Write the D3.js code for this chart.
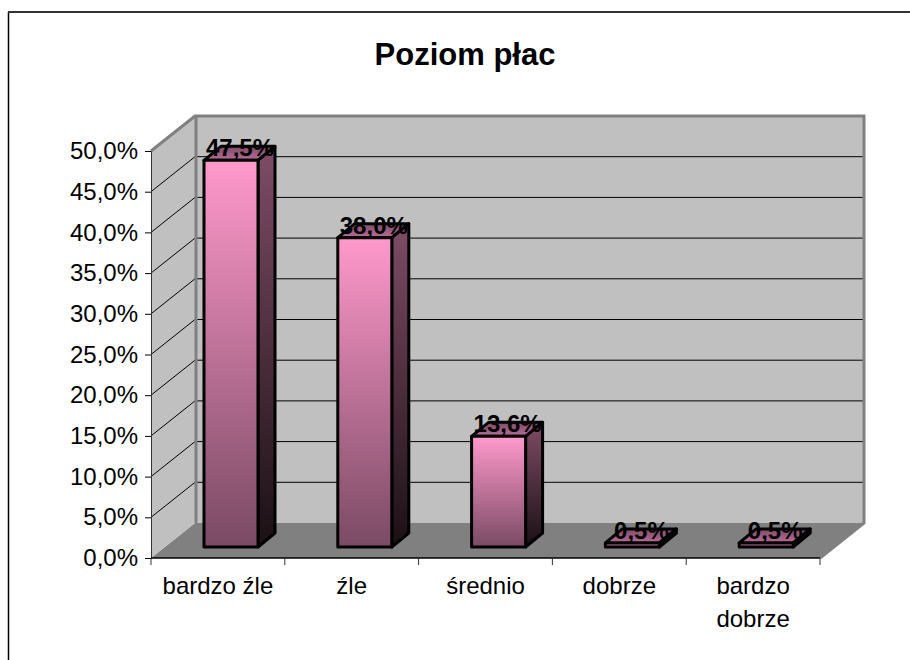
<!DOCTYPE html>
<html>
<head>
<meta charset="utf-8">
<script src="https://cdn.jsdelivr.net/npm/d3@7"></script>
<style>
  html, body { margin: 0; padding: 0; background: #fff; }
  svg { display: block; }
  text { font-family: "Liberation Sans", Arial, sans-serif; fill: #000; }
</style>
</head>
<body>
<svg id="chart" width="910" height="660"></svg>
<script>
var titleText = "Poziom płac";
var categories = ["bardzo źle", "źle", "średnio", "dobrze", "bardzo dobrze"];
var values = [47.5, 38.0, 13.6, 0.5, 0.5];
var valueLabels = ["47,5%", "38,0%", "13,6%", "0,5%", "0,5%"];
var yTicks = [0, 5, 10, 15, 20, 25, 30, 35, 40, 45, 50];

var svg = d3.select("#chart");

// front plane of the 3d box
var x = d3.scaleBand().domain(categories).range([151, 820]);
var y = d3.scaleLinear().domain([0, 50]).range([558, 151]);

// depth of the box, and of the bars inside it
var depth = { x: 44, y: -35 };
var barFront = { y: -11 };
var barDepth = { x: 17, y: -14 };
var barWidth = 54;
var barInset = 53;

function pts(a) {
  return a.map(function(p) { return p[0] + "," + p[1]; }).join(" ");
}

function fmt(v) {
  return v.toFixed(1).replace(".", ",") + "%";
}

var defs = svg.append("defs");
function gradient(id, top, bottom) {
  var g = defs.append("linearGradient").attr("id", id)
    .attr("x1", 0).attr("y1", 0).attr("x2", 0).attr("y2", 1);
  g.append("stop").attr("offset", 0).attr("stop-color", top);
  g.append("stop").attr("offset", 1).attr("stop-color", bottom);
}
gradient("front", "#ff99cc", "#7a4a63");
gradient("side", "#7f4c66", "#1a1014");
gradient("top", "#7f4c66", "#b86c98");

// outer frame, cut off by the right and bottom of the picture
svg.append("line")
  .attr("x1", 8.5).attr("x2", 8.5).attr("y1", 12).attr("y2", 660)
  .attr("stroke", "#000").attr("stroke-width", 1.5);
svg.append("line")
  .attr("x1", 8).attr("x2", 910).attr("y1", 12).attr("y2", 12)
  .attr("stroke", "#333").attr("stroke-width", 2);

svg.append("text")
  .attr("x", 465).attr("y", 65)
  .attr("text-anchor", "middle")
  .attr("font-size", 31).attr("font-weight", "bold")
  .text(titleText);

var x0 = x.range()[0], x1 = x.range()[1];
var y0 = y(0), yTop = y(50);

// floor
svg.append("polygon")
  .attr("points", pts([[x0, y0], [x1, y0], [x1 + depth.x, y0 + depth.y], [x0 + depth.x, y0 + depth.y]]))
  .attr("fill", "#808080");

// left wall
svg.append("polygon")
  .attr("points", pts([[x0, y0], [x0, yTop], [x0 + depth.x, yTop + depth.y], [x0 + depth.x, y0 + depth.y]]))
  .attr("fill", "#c0c0c0");

// back wall
svg.append("rect")
  .attr("x", x0 + depth.x).attr("y", yTop + depth.y)
  .attr("width", x1 - x0).attr("height", y0 - yTop)
  .attr("fill", "#c0c0c0");

// gridlines on both walls
yTicks.slice(1, -1).forEach(function(t) {
  svg.append("path")
    .attr("d", "M" + x0 + "," + y(t) + "L" + (x0 + depth.x) + "," + (y(t) + depth.y) + "H" + (x1 + depth.x))
    .attr("fill", "none").attr("stroke", "#000").attr("stroke-width", 1);
});

// grey edges of the walls
svg.append("path")
  .attr("d", "M" + x0 + "," + yTop + "L" + (x0 + depth.x) + "," + (yTop + depth.y) + "H" + (x1 + depth.x) + "V" + (y0 + depth.y) + "L" + x1 + "," + y0)
  .attr("fill", "none").attr("stroke", "#808080").attr("stroke-width", 3);
svg.append("line")
  .attr("x1", x0 + depth.x + 1).attr("x2", x0 + depth.x + 1)
  .attr("y1", yTop + depth.y).attr("y2", y0 + depth.y)
  .attr("stroke", "#808080").attr("stroke-width", 3);

// bars
var bars = svg.selectAll(".bar").data(categories).enter().append("g").attr("class", "bar");
bars.each(function(c, i) {
  var g = d3.select(this);
  var l = x(c) + barInset, r = l + barWidth;
  var b = y(0) + barFront.y, t = y(values[i]) + barFront.y;
  g.append("polygon")
    .attr("points", pts([[l, t], [r, t], [r + barDepth.x, t + barDepth.y], [l + barDepth.x, t + barDepth.y]]))
    .attr("fill", "url(#top)");
  g.append("polygon")
    .attr("points", pts([[r, t], [r + barDepth.x, t + barDepth.y], [r + barDepth.x, b + barDepth.y], [r, b]]))
    .attr("fill", "url(#side)");
  g.append("rect")
    .attr("x", l).attr("y", t).attr("width", barWidth).attr("height", b - t)
    .attr("fill", "url(#front)");
  g.selectAll("polygon, rect")
    .attr("stroke", "#000").attr("stroke-width", 3).attr("stroke-linejoin", "round");
});

// axes
var yAxis = svg.append("g").attr("transform", "translate(" + x0 + ",0)")
  .call(d3.axisLeft(y).tickValues(yTicks).tickFormat(fmt).tickSize(6).tickPadding(7));
yAxis.selectAll("text").attr("font-size", 24).attr("font-family", null);
yAxis.selectAll("line").attr("stroke", "#000");
yAxis.select(".domain").attr("stroke", "#333");

var xAxis = svg.append("g").attr("transform", "translate(0," + y0 + ")");
xAxis.append("line").attr("x1", x0).attr("x2", x1).attr("stroke", "#000").attr("stroke-width", 1.5);
d3.range(categories.length + 1).forEach(function(i) {
  var tx = x0 + i * x.bandwidth();
  xAxis.append("line").attr("x1", tx).attr("x2", tx).attr("y1", 0).attr("y2", 7).attr("stroke", "#333");
});
categories.forEach(function(c) {
  var lines = c === "bardzo dobrze" ? ["bardzo", "dobrze"] : [c];
  lines.forEach(function(s, j) {
    xAxis.append("text")
      .attr("x", x(c) + x.bandwidth() / 2).attr("y", 36 + j * 33)
      .attr("text-anchor", "middle").attr("font-size", 24)
      .text(s);
  });
});

// value labels, on top of the bars
svg.selectAll(".value").data(categories).enter().append("text")
  .attr("class", "value")
  .attr("x", function(c) { return x(c) + barInset + barWidth / 2 + 9; })
  .attr("y", function(c, i) { return y(values[i]) + barFront.y - 4; })
  .attr("text-anchor", "middle")
  .attr("font-size", 24).attr("font-weight", "bold")
  .text(function(c, i) { return valueLabels[i]; });
</script>
</body>
</html>
